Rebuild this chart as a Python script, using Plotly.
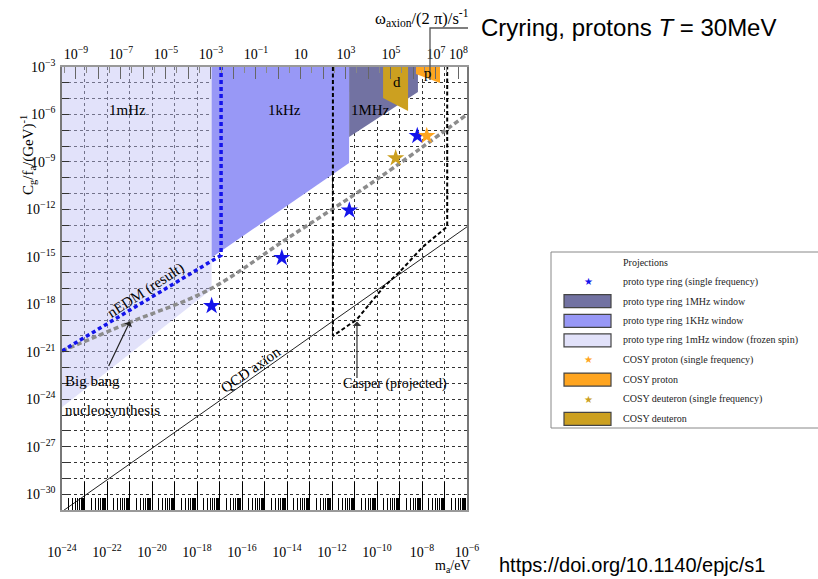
import numpy as np
import plotly.graph_objects as go

EV_TO_HZ = 2.418e14  # frequency (Hz) per eV of axion mass

# ---- data (log10 values) ----
mhz_mass = [-24, -24, -17.35, -17.35]
mhz_coupling = [-3, -24.5, -17.05, -3]
khz_mass = [-17.35, -17.35, -11.24, -11.24]
khz_coupling = [-3, -15.05, -9.06, -3]
MHz_mass = [-11.24, -11.24, -8.18, -8.18]
MHz_coupling = [-3, -7.42, -4.58, -3]
cosy_d_mass = [-9.73, -9.73, -8.62, -8.62]
cosy_d_coupling = [-3, -4.96, -5.78, -3]
cosy_p_mass = [-8.27, -8.27, -7.2, -7.2]
cosy_p_coupling = [-3, -3.44, -4.01, -3]

ring_single_mass = [-17.35, -14.23, -11.23, -8.21]
ring_single_coupling = [-18.1, -15.06, -12.06, -7.35]
cosy_p_single_mass = [-7.79]
cosy_p_single_coupling = [-7.35]
cosy_d_single_mass = [-9.17]
cosy_d_single_coupling = [-8.76]

nedm_mass = [-24, -16.93, -16.93]
nedm_coupling = [-20.95, -14.9, -3]
bbn_mass = [-24, -21, -17.5, -14, -10, -6]
bbn_coupling = [-20.95, -19.15, -17.1, -13.85, -10.1, -6.0]
casper_mass = [-11.96, -11.96, -10.9, -9.73, -8.98, -7.96, -6.88, -6.88]
casper_coupling = [-3, -20.0, -18.96, -16.94, -15.93, -14.36, -13.09, -3]
qcd_mass = [-24, -6]
qcd_coupling = [-31.1, -13.1]

mass_ticks = list(range(-24, -5))
coupling_ticks = list(range(-31, -2))
freq_ticks = list(range(-9, 9))
freq_labelled = [-9, -7, -5, -3, -1, 1, 3, 5, 7, 8]

SERIF = "Liberation Serif"
C_LIGHT = "rgba(190,190,245,0.45)"
C_MED = "rgb(152,152,246)"
C_DARK = "rgb(114,114,162)"
C_GOLD = "rgb(204,160,32)"
C_ORANGE = "rgb(255,165,32)"
C_BLUE = "rgb(20,20,235)"


def p10(a):
    return 10.0 ** np.asarray(a, dtype=float)


def sup(e):
    if e == 1:
        return "10"
    s = str(e).replace("-", "\u2212")
    return "10<sup>" + s + "</sup>"


fig = go.Figure()

for mx, my, col in [(mhz_mass, mhz_coupling, C_LIGHT),
                    (khz_mass, khz_coupling, C_MED),
                    (MHz_mass, MHz_coupling, C_DARK),
                    (cosy_d_mass, cosy_d_coupling, C_GOLD),
                    (cosy_p_mass, cosy_p_coupling, C_ORANGE)]:
    fig.add_trace(go.Scatter(x=p10(mx), y=p10(my), fill="toself", fillcolor=col,
                             mode="none", showlegend=False, hoverinfo="skip"))

fig.add_trace(go.Scatter(x=p10(qcd_mass), y=p10(qcd_coupling), mode="lines",
                         line=dict(color="#222", width=1), showlegend=False))
fig.add_trace(go.Scatter(x=p10(bbn_mass), y=p10(bbn_coupling), mode="lines",
                         line=dict(color="#8c8c8c", width=3.5, dash="5px,3px", shape="spline"),
                         showlegend=False))
fig.add_trace(go.Scatter(x=p10(nedm_mass), y=p10(nedm_coupling), mode="lines",
                         line=dict(color=C_BLUE, width=3.5, dash="4px,3px"), showlegend=False))
fig.add_trace(go.Scatter(x=p10(casper_mass), y=p10(casper_coupling), mode="lines",
                         line=dict(color="black", width=2, dash="4px,2.5px"), showlegend=False))

for mx, my, col in [(ring_single_mass, ring_single_coupling, C_BLUE),
                    (cosy_p_single_mass, cosy_p_single_coupling, C_ORANGE),
                    (cosy_d_single_mass, cosy_d_single_coupling, C_GOLD)]:
    fig.add_trace(go.Scatter(x=p10(mx), y=p10(my), mode="markers",
                             marker=dict(symbol="star", size=13, color=col, line=dict(width=0)),
                             showlegend=False))

# invisible trace on the frequency axis so it is drawn
fig.add_trace(go.Scatter(x=p10(ring_single_mass) * EV_TO_HZ, y=p10(ring_single_coupling),
                         xaxis="x2", mode="markers", marker=dict(opacity=0),
                         showlegend=False, hoverinfo="skip"))

minor_mass = [k * 10.0 ** n for n in range(-24, -6) for k in range(2, 10)]
minor_freq = [3 * 10.0 ** n for n in range(-10, 9)]

fig.update_layout(
    width=818, height=579, autosize=False,
    margin=dict(l=62, r=351, t=67, b=69),
    paper_bgcolor="white", plot_bgcolor="white",
    font=dict(family=SERIF, size=14, color="black"),
    xaxis=dict(type="log", range=[-24, -6],
               tickvals=list(p10(mass_ticks)),
               ticktext=[sup(e) if e % 2 == 0 else "" for e in mass_ticks],
               ticks="inside", ticklen=28, tickwidth=1.3, tickcolor="black",
               ticklabelstandoff=28,
               showgrid=True, gridcolor="#333", griddash="dot", gridwidth=1,
               minor=dict(tickvals=minor_mass, ticks="inside", ticklen=12,
                          tickcolor="black", tickwidth=1, showgrid=False),
               showline=True, linecolor="#999", linewidth=1.5, mirror=True,
               zeroline=False, tickfont=dict(family=SERIF, size=14)),
    xaxis2=dict(type="log", overlaying="x", side="top", anchor="y",
                range=[np.log10(EV_TO_HZ) - 24, np.log10(EV_TO_HZ) - 6],
                tickvals=list(p10(freq_ticks)),
                ticktext=[sup(e) if e in freq_labelled else "" for e in freq_ticks],
                ticks="inside", ticklen=12, tickwidth=1.3, tickcolor="#666",
                ticklabelstandoff=4,
                minor=dict(tickvals=minor_freq, ticks="inside", ticklen=6,
                           tickcolor="#888", tickwidth=1, showgrid=False),
                showgrid=False, showline=False, zeroline=False,
                tickfont=dict(family=SERIF, size=14)),
    yaxis=dict(type="log", range=[-31, -3],
               tickvals=list(p10(coupling_ticks)),
               ticktext=[sup(e) if e % 3 == 0 else "" for e in coupling_ticks],
               ticks="inside", ticklen=7, tickwidth=1.3, tickcolor="#333",
               ticklabelstandoff=2,
               showgrid=True, gridcolor="#333", griddash="dot", gridwidth=1,
               showline=True, linecolor="#777", linewidth=1.5, mirror=True,
               zeroline=False, tickfont=dict(family=SERIF, size=14)),
)

L, R, T, B = 62, 467, 67, 510


def px(x):
    return (x - L) / (R - L)


def py(y):
    return (B - y) / (B - T)


ann = []


def text_data(t, x, y, size=15, angle=0, **kw):
    ann.append(dict(text=t, x=x, y=y, xref="x", yref="y", showarrow=False,
                    textangle=angle, font=dict(family=SERIF, size=size, color="black"), **kw))


def text_px(t, x, y, size=15, xanchor="center", family=SERIF, color="black"):
    ann.append(dict(text=t, x=px(x), y=py(y), xref="paper", yref="paper", showarrow=False,
                    xanchor=xanchor, yanchor="middle",
                    font=dict(family=family, size=size, color=color)))


text_data("1mHz", -21.07, -5.71)
text_data("1kHz", -14.13, -5.71)
text_data("1MHz", -10.3, -5.71)
text_data("d", -9.12, -3.95)
text_data("p", -7.73, -3.38)
text_data("nEDM (result)", -20.27, -17.13, angle=-33)
text_data("QCD axion", -15.64, -22.12, angle=-35)
text_data("Casper (projected)", -9.2, -23.06, size=14)
text_px("Big bang", 63, 381, xanchor="left")
text_px("nucleosynthesis", 63, 410, xanchor="left")

# arrows
ann.append(dict(x=-20.98, y=-19.09, xref="x", yref="y", text="", showarrow=True,
                ax=-22, ay=46, arrowhead=1, arrowsize=1.2, arrowwidth=1.2, arrowcolor="#222"))
ann.append(dict(x=-10.89, y=-19.09, xref="x", yref="y", text="", showarrow=True,
                ax=0, ay=58, arrowhead=1, arrowsize=1.2, arrowwidth=1.2, arrowcolor="#333"))

# axis titles & headers
ann.append(dict(text="C<sub>g</sub>/f<sub>a</sub>/(GeV)<sup>-1</sup>", x=px(16), y=py(113),
                xref="paper", yref="paper", showarrow=False, textangle=-90,
                font=dict(family=SERIF, size=15)))
text_px("m<sub>a</sub>/eV", 452, 566, size=14)
ann.append(dict(text="\u03c9<sub>axion</sub>/(2 \u03c0)/s<sup>-1</sup>", x=px(471), y=py(18),
                xref="paper", yref="paper", showarrow=False, xanchor="right", yanchor="middle",
                font=dict(family=SERIF, size=16.5)))
text_px("Cryring, protons <i>T</i> = 30MeV", 479, 28, size=24, xanchor="left",
        family="Liberation Sans")
text_px("https://doi.org/10.1140/epjc/s1", 497, 565, size=20, xanchor="left",
        family="Liberation Sans")

shapes = [dict(type="path", xref="paper", yref="paper",
               path=f"M{px(468)},{py(28)} L{px(430)},{py(28)} L{px(430)},{py(80)}",
               line=dict(color="#555", width=1.3))]

# legend box
shapes.append(dict(type="rect", xref="paper", yref="paper", x0=px(551), x1=px(840),
                   y0=py(428), y1=py(252), line=dict(color="#888", width=1),
                   fillcolor="white", layer="above"))
legend_rows = [
    ("Projections", None, None),
    ("proto type ring (single frequency)", "star", C_BLUE),
    ("proto type ring 1MHz window", "box", C_DARK),
    ("proto type ring 1KHz window", "box", C_MED),
    ("proto type ring 1mHz window (frozen spin)", "box", "rgb(226,226,250)"),
    ("COSY proton (single frequency)", "star", C_ORANGE),
    ("COSY proton", "box", C_ORANGE),
    ("COSY deuteron (single frequency)", "star", C_GOLD),
    ("COSY deuteron", "box", C_GOLD),
]
for i, (label, kind, col) in enumerate(legend_rows):
    yy = 262 + i * 19.6
    ann.append(dict(text=label, x=px(621), y=py(yy), xref="paper", yref="paper",
                    showarrow=False, xanchor="left", yanchor="middle",
                    font=dict(family=SERIF, size=10, color="#222")))
    if kind == "box":
        shapes.append(dict(type="rect", xref="paper", yref="paper", x0=px(564), x1=px(611),
                           y0=py(yy + 6.5), y1=py(yy - 6.5), fillcolor=col,
                           line=dict(color="#444", width=1.2), layer="above"))
    elif kind == "star":
        ann.append(dict(text="\u2605", x=px(588), y=py(yy), xref="paper", yref="paper",
                        showarrow=False, xanchor="center", yanchor="middle",
                        font=dict(family="DejaVu Sans", size=10, color=col)))

fig.update_layout(annotations=ann, shapes=shapes)

fig.write_html("out.html")
